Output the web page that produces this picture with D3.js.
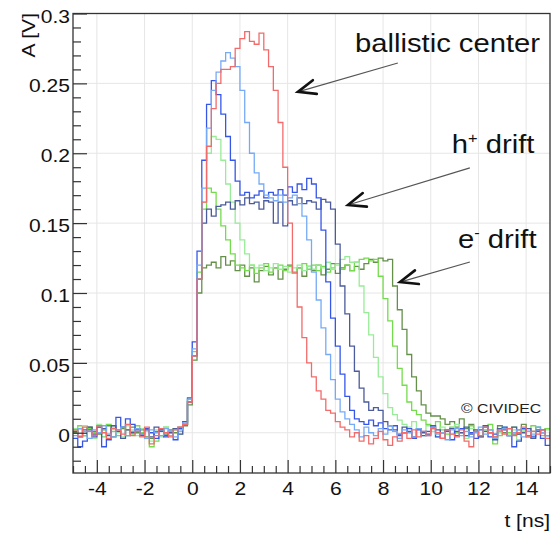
<!DOCTYPE html>
<html><head><meta charset="utf-8">
<script src="https://cdn.jsdelivr.net/npm/d3@7"></script>
<style>html,body{margin:0;padding:0;background:#fff;}svg{display:block;font-family:"Liberation Sans",Arial,sans-serif;}</style>
</head><body>
<svg id="c" width="555" height="533"></svg>
<script>
// ---- data: amplitude in mV, 0.2 ns bins starting at t = -5 ns ----
const tStart = -5, binWidth = 0.2;
const ballisticRed = [2,-3,4,1,-2,5,0,-4,3,2,-1,6,-2,1,-3,4,-8,-2,3,0,-3,2,4,6,
 22,55,110,165,205,232,250,260,260,262,275,282,287,280,278,286,274,262,245,222,190,150,115,90,68,50,40,30,24,16,14,8,4,2,
 -3,0,-6,-2,-8,-4,1,-5,-9,-3,-6,0,-4,2,-3,1,-2,3,0,-4,2,-1,-3,2,-6,-10,1,-2,4,0,-3,2,-1,3,-2,0,4,-3,1,-1,2,-4,0];
const lightBlue = [-2,3,1,-4,2,0,5,-1,-3,2,4,-2,1,3,-1,-4,2,0,-2,3,1,-3,2,7,
 24,60,120,175,218,245,258,266,272,268,262,245,222,200,186,178,170,168,166,170,165,168,170,164,155,138,115,95,75,56,38,24,15,10,6,
 2,-3,4,0,-2,3,-1,5,1,-4,2,0,-3,3,1,-2,4,-1,0,-5,2,3,-2,1,-3,0,4,-1,2,-4,1,3,-2,0,2,-3,1,-1,4,0,-2];
const blue = [-4,-10,-6,2,-3,4,-10,-5,3,11,4,10,6,2,-2,3,0,-4,2,-3,1,-5,3,8,
 25,65,130,195,235,252,242,228,212,195,180,170,172,168,170,173,168,172,170,174,170,176,172,178,174,182,178,168,145,108,82,62,42,26,16,10,
 8,6,9,5,7,3,2,5,-1,0,3,-4,2,-2,1,4,-3,0,2,-5,1,3,-2,0,-4,2,5,-3,-1,1,4,-2,-10,-6,3,1,-3,2,-4,-9];
const darkBlue = [1,-3,2,4,-1,0,3,-2,5,1,-4,2,0,3,-1,2,-3,4,1,-2,0,3,-1,6,
 22,55,110,150,160,155,162,163,165,160,166,163,168,164,165,160,166,165,150,165,148,166,163,168,164,166,165,160,167,165,160,135,105,85,62,44,32,22,16,18,16,8,
 5,2,-2,4,1,-3,3,0,-1,5,2,-4,1,3,-2,0,4,-1,2,-3,1,0,-5,3,2,-2,4,-1,0,3,-4,1,2,-2];
const lightGreen = [3,-2,5,1,-4,6,2,-1,4,0,-3,5,2,-2,3,1,-6,2,-3,4,0,2,-1,6,
 22,55,110,165,200,212,210,195,178,165,150,138,128,120,118,120,116,118,121,117,119,115,118,120,116,119,117,120,118,122,117,120,124,126,122,122,105,86,70,54,40,28,18,13,9,6,
 4,8,3,-2,5,1,-3,4,2,-1,6,0,-4,3,1,-2,5,2,-3,0,4,-1,2,-5,1,3,-2,4,0,2];
const green = [2,5,-2,3,0,4,-3,6,1,-2,4,2,-1,5,0,3,-10,-6,2,4,-2,3,1,6,
 24,58,115,160,175,172,160,148,138,128,120,118,116,120,114,118,121,115,118,120,116,119,114,118,121,117,120,116,119,115,118,121,117,120,116,122,124,125,123,124,112,96,80,62,46,34,22,16,13,9,
 6,3,8,2,-1,4,0,3,-2,5,1,-3,2,6,-8,-2,3,0,4,-1,2,-3,5,1,-2,3];
const darkGreen = [0,3,-2,4,1,-1,2,5,-3,1,3,-2,4,0,2,-3,-4,1,3,-1,2,0,4,5,
 20,52,100,118,120,122,118,126,120,123,116,120,112,118,108,116,119,113,118,110,117,120,114,118,112,119,116,120,113,117,121,114,118,120,116,119,117,121,124,122,125,123,124,105,88,74,56,40,30,20,14,12,12,10,6,
 8,4,10,3,6,1,-2,4,2,-3,5,0,3,-1,2,6,-2,1,4,0,3];

const seriesNames = ["darkGreen","green","lightGreen","darkBlue","blue","lightBlue","ballisticRed"];
const seriesValues = [darkGreen, green, lightGreen, darkBlue, blue, lightBlue, ballisticRed];
const seriesColors = ["#65904a","#74dc4c","#98ec98","#4b5b9b","#3656e8","#76aaf6","#f36a6a"];

const xTicks = [-4,-2,0,2,4,6,8,10,12,14];
const xTickLabels = ["-4","-2","0","2","4","6","8","10","12","14"];
const yTicks = [0,0.05,0.1,0.15,0.2,0.25,0.3];
const yTickLabels = ["0","0.05","0.1","0.15","0.2","0.25","0.3"];

// annotations in data coordinates: [t, A]
const annotations = [
  {label:"ballistic center", sup:null, text:[6.82,0.2725], from:[8.62,0.2646], tip:[4.43,0.2439]},
  {label:"h", sup:"+", rest:" drift", text:[10.88,0.2], from:[11.64,0.1895], tip:[6.53,0.163]},
  {label:"e", sup:"-", rest:" drift", text:[11.14,0.132], from:[11.64,0.1222], tip:[8.71,0.1078]}
];

// ---- layout ----
const L = 73, R = 550, T = 13.5, B = 473;
const SX = 1.17;
const svg = d3.select("#c");
const x = d3.scaleLinear().domain([-5,15]).range([L,R]);
const y = d3.scaleLinear().domain([-0.0288,0.3]).range([B,T]);

// grid
const grid = svg.append("g");
grid.selectAll("line.gx").data(xTicks).join("line")
  .attr("x1",d=>x(d)).attr("x2",d=>x(d)).attr("y1",T).attr("y2",B)
  .attr("stroke","#e6e6e6").attr("stroke-width",1);
grid.selectAll("line.gy").data(yTicks.filter(d=>d<0.3)).join("line")
  .attr("x1",L).attr("x2",R).attr("y1",d=>y(d)).attr("y2",d=>y(d))
  .attr("stroke","#e6e6e6").attr("stroke-width",1);

// traces
svg.append("clipPath").attr("id","plotclip").append("rect")
  .attr("x",L).attr("y",T).attr("width",R-L).attr("height",B-T);
const line = d3.line().x(d=>x(d[0])).y(d=>y(d[1])).curve(d3.curveStepAfter);
const traces = svg.append("g").attr("clip-path","url(#plotclip)");
seriesValues.forEach((arr,k)=>{
  const pts = arr.map((v,i)=>[tStart+binWidth*i, v/1000]);
  pts.push([tStart+binWidth*arr.length, arr[arr.length-1]/1000]);
  traces.append("path").datum(pts).attr("d",line)
    .attr("fill","none").attr("stroke",seriesColors[k]).attr("stroke-width",1.3)
    .attr("stroke-linejoin","miter");
});

// frame
svg.append("rect").attr("x",L).attr("y",T).attr("width",R-L).attr("height",B-T)
  .attr("fill","none").attr("stroke","#333").attr("stroke-width",1.3);

// axes
const xMinor = d3.range(-5,15.001,0.5).filter(v=>Math.abs(v/2-Math.round(v/2))>1e-6);
const yMinor = d3.range(-0.02,0.2901,0.01).map(v=>+v.toFixed(3)).filter(v=>Math.abs(v/0.05-Math.round(v/0.05))>1e-6);

const gxMinor = svg.append("g").attr("transform",`translate(0,${B})`)
  .call(d3.axisBottom(x).tickValues(xMinor).tickSize(-7).tickFormat(""));
const gx = svg.append("g").attr("transform",`translate(0,${B})`)
  .call(d3.axisBottom(x).tickValues(xTicks).tickSize(-13).tickFormat((d,i)=>xTickLabels[i]));
const gyMinor = svg.append("g").attr("transform",`translate(${L},0)`)
  .call(d3.axisLeft(y).tickValues(yMinor).tickSize(-8).tickFormat(""));
const gy = svg.append("g").attr("transform",`translate(${L},0)`)
  .call(d3.axisLeft(y).tickValues(yTicks).tickSize(-14).tickFormat((d,i)=>yTickLabels[i]));
[gxMinor,gx,gyMinor,gy].forEach(g=>{
  g.select(".domain").remove();
  g.selectAll(".tick line").attr("stroke","#333").attr("stroke-width",1.2);
});
gx.selectAll(".tick text").attr("y",0).attr("dy",0)
  .attr("transform",`translate(0,21.5) scale(${SX},1)`)
  .attr("font-size",18).attr("font-family","Liberation Sans, Arial, sans-serif").attr("fill","#111");
gy.selectAll(".tick text").attr("x",0).attr("dy",0)
  .attr("transform",`translate(-3,8.5) scale(${SX},1)`)
  .attr("font-size",18).attr("font-family","Liberation Sans, Arial, sans-serif").attr("fill","#111");

// axis titles
svg.append("text").attr("transform",`translate(34.5,${T-0.5}) rotate(-90) scale(${SX},1)`)
  .attr("text-anchor","end").attr("font-size",18).attr("fill","#111").text("A [V]");
svg.append("text").attr("transform",`translate(${R},527) scale(${SX},1)`)
  .attr("text-anchor","end").attr("font-size",18).attr("fill","#111").text("t [ns]");

// annotations
const ann = svg.append("g");
annotations.forEach(a=>{
  const t = ann.append("text")
    .attr("transform",`translate(${x(a.text[0])},${y(a.text[1])}) scale(${SX},1)`)
    .attr("font-size",25).attr("fill","#111");
  t.append("tspan").text(a.label);
  if(a.sup){
    t.append("tspan").attr("font-size",14).attr("dy",-10).text(a.sup==="-"?"-":"+");
    t.append("tspan").attr("dy",10).text(a.rest);
  }
  const x0=x(a.from[0]), y0=y(a.from[1]), x1=x(a.tip[0]), y1=y(a.tip[1]);
  ann.append("line").attr("x1",x0).attr("y1",y0).attr("x2",x1).attr("y2",y1)
    .attr("stroke","#555").attr("stroke-width",1.2);
  const ang = Math.atan2(y0-y1, x0-x1), len = 19, spread = 22*Math.PI/180;
  const p1 = [x1+len*Math.cos(ang-spread), y1+len*Math.sin(ang-spread)];
  const p2 = [x1+len*Math.cos(ang+spread), y1+len*Math.sin(ang+spread)];
  ann.append("path").attr("d",`M${p1[0]},${p1[1]}L${x1},${y1}L${p2[0]},${p2[1]}`)
    .attr("fill","none").attr("stroke","#111").attr("stroke-width",2.6)
    .attr("stroke-linejoin","miter").attr("stroke-linecap","round");
});

// copyright
const copyPos = [11.27,0.0141];
svg.append("text").attr("transform",`translate(${x(copyPos[0])},${y(copyPos[1])}) scale(${SX},1)`)
  .attr("font-size",13.5).attr("fill","#222").text("© CIVIDEC");
</script>
</body></html>
